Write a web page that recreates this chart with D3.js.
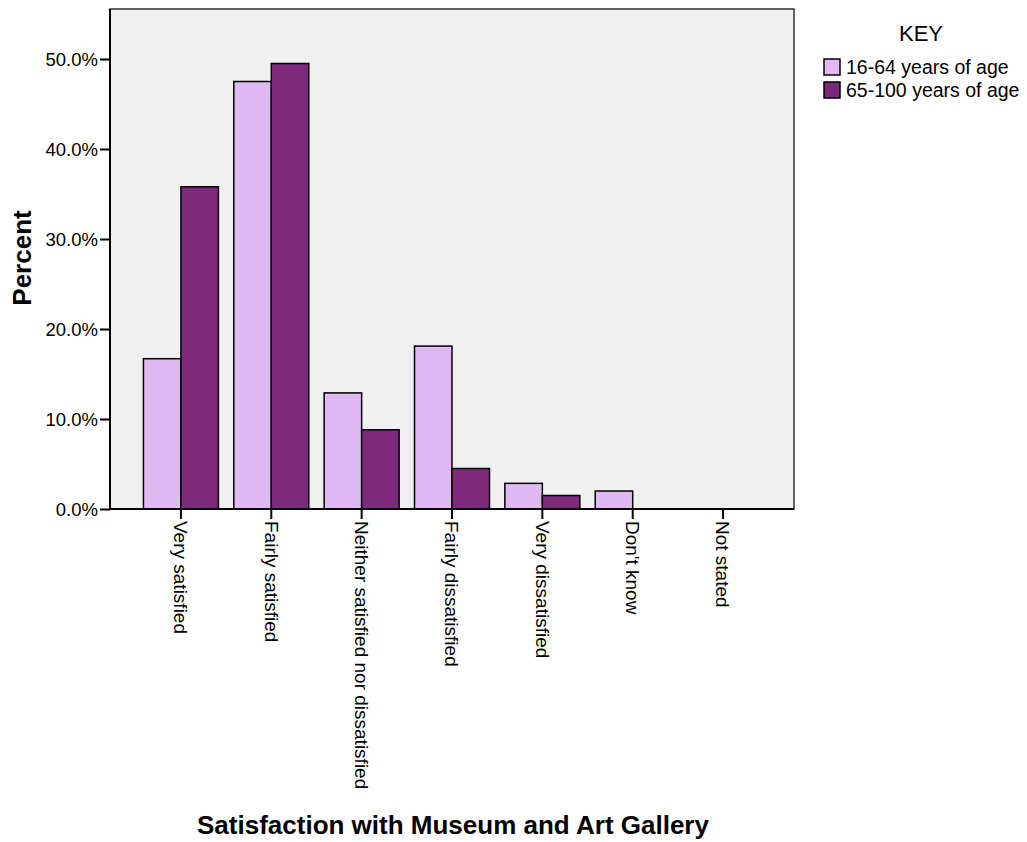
<!DOCTYPE html>
<html><head><meta charset="utf-8">
<script src="https://cdn.jsdelivr.net/npm/d3@7"></script>
<style>body{margin:0;background:#fff}svg{display:block}text{font-family:"Liberation Sans",Arial,sans-serif}</style>
</head><body>
<script>
const categories = ["Very satisfied","Fairly satisfied","Neither satisfied nor dissatisfied","Fairly dissatisfied","Very dissatisfied","Don't know","Not stated"];
const seriesNames = ["16-64 years of age","65-100 years of age"];
const young = [16.7, 47.5, 12.9, 18.1, 2.85, 2.0, 0];
const old = [35.8, 49.5, 8.8, 4.5, 1.5, 0, 0];
const yTicks = [0,10,20,30,40,50];
const colors = ["#E0B8F2","#7D2A7D"];

const W=1027,H=842;
const L=110,R=794,T=9,B=509;
const svg=d3.select("body").append("svg").attr("width",W).attr("height",H);

const y=d3.scaleLinear().domain([0,50]).range([B,59]);
const x=d3.scaleBand().domain(categories).range([L,R]).paddingInner(0.17).paddingOuter(0.37);
const xs=d3.scaleBand().domain(seriesNames).range([0,x.bandwidth()]);

svg.append("rect").attr("x",L).attr("y",T).attr("width",R-L).attr("height",B-T).attr("fill","#F0F0F0").attr("stroke","#333").attr("stroke-width",1.5);

const data=categories.map((c,i)=>({c,vals:[young[i],old[i]]}));
const g=svg.append("g");
data.forEach(d=>{
  d.vals.forEach((v,j)=>{
    g.append("rect").attr("x",x(d.c)+xs(seriesNames[j])).attr("y",y(v))
      .attr("width",xs.bandwidth()).attr("height",B-y(v))
      .attr("fill",colors[j]).attr("stroke","#000").attr("stroke-width",1.5);
  });
});

// y axis
const ya=svg.append("g").attr("transform",`translate(${L},0)`)
  .call(d3.axisLeft(y).tickValues(yTicks).tickSize(10).tickFormat(d=>d.toFixed(1)+"%"));
ya.select(".domain").attr("d",`M0,${T}V${B}`).attr("stroke","#000").attr("stroke-width",2);
ya.selectAll(".tick line").attr("stroke","#000").attr("stroke-width",2);
ya.selectAll(".tick text").attr("font-size",18.5).attr("fill","#000").attr("x",-12).attr("dy","0.35em").style("font-family","Liberation Sans, Arial, sans-serif");

// x axis
const xa=svg.append("g").attr("transform",`translate(0,${B})`)
  .call(d3.axisBottom(x).tickSize(10).tickSizeOuter(0));
xa.select(".domain").attr("d",`M${L},0H${R}`).attr("stroke","#000").attr("stroke-width",2);
xa.selectAll(".tick line").attr("stroke","#000").attr("stroke-width",2);
xa.selectAll(".tick text").attr("font-size",19).attr("fill","#000")
  .attr("transform","rotate(90)").attr("x",12).attr("y",0).attr("dy","0.35em")
  .attr("text-anchor","start").style("font-family","Liberation Sans, Arial, sans-serif");

// titles
svg.append("text").attr("transform","translate(31,258) rotate(-90)").attr("text-anchor","middle")
  .attr("font-size",26).attr("font-weight","bold").text("Percent");
svg.append("text").attr("x",453).attr("y",834).attr("text-anchor","middle")
  .attr("font-size",26).attr("font-weight","bold").text("Satisfaction with Museum and Art Gallery");

// legend
svg.append("text").attr("x",921).attr("y",41).attr("text-anchor","middle").attr("font-size",22).text("KEY");
seriesNames.forEach((s,i)=>{
  const ly=59+i*23;
  svg.append("rect").attr("x",824).attr("y",ly).attr("width",16).attr("height",16)
    .attr("fill",colors[i]).attr("stroke","#000").attr("stroke-width",1.5);
  svg.append("text").attr("x",846).attr("y",ly+15).attr("font-size",19.5).text(s);
});
</script>
</body></html>
